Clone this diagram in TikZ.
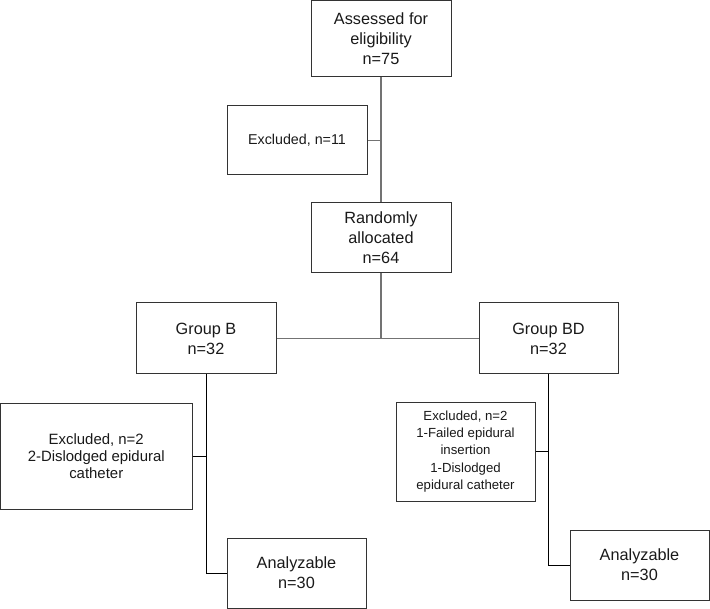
\documentclass[tikz,border=0pt]{standalone}
\usepackage{fontspec}
\setmainfont{Liberation Sans}
\begin{document}
\begin{tikzpicture}[x=0.75pt,y=-0.75pt,
  box/.style={draw=black!80, line width=0.75pt, align=center, inner sep=0pt,
    font=\fontsize{12.2}{15}\selectfont, text=black!90},
  exsmall/.style={font=\fontsize{10.7}{13}\selectfont},
  exleft/.style={font=\fontsize{11.2}{12.75}\selectfont},
  exright/.style={font=\fontsize{9.9}{13}\selectfont},
  upline/.style={draw=black!55, line width=0.9pt},
  lowline/.style={draw=black, line width=0.75pt}]
\useasboundingbox (0,0) rectangle (710,609);
\node[box, minimum width=140*0.75pt, minimum height=76*0.75pt] (top) at (381,39) {Assessed for\\eligibility\\n=75};
\node[box, exsmall, minimum width=140*0.75pt, minimum height=69*0.75pt] (ex11) at (297,140.5) {Excluded, n=11};
\node[box, minimum width=140*0.75pt, minimum height=70*0.75pt] (rand) at (381,238) {Randomly\\allocated\\n=64};
\node[box, minimum width=140*0.75pt, minimum height=71*0.75pt] (gb) at (206,338.5) {Group B\\n=32};
\node[box, minimum width=139*0.75pt, minimum height=71*0.75pt] (gbd) at (548.5,338.5) {Group BD\\n=32};
\node[box, exleft, minimum width=191.5*0.75pt, minimum height=106*0.75pt] (exl) at (96.25,456) {Excluded, n=2\\2-Dislodged epidural\\catheter};
\node[box, exright, minimum width=139*0.75pt, minimum height=99*0.75pt] (exr) at (465.5,451.5) {Excluded, n=2\\1-Failed epidural\\insertion\\1-Dislodged\\epidural catheter};
\node[box, minimum width=139*0.75pt, minimum height=70*0.75pt] (anl) at (296.5,573) {Analyzable\\n=30};
\node[box, minimum width=139*0.75pt, minimum height=70*0.75pt] (anr) at (639.5,565) {Analyzable\\n=30};
% upper connectors
\draw[upline] (top.south) -- (rand.north);
\draw[upline] (ex11.east) -- (ex11.east -| top.south);
\coordinate (split) at (rand.south |- gb.east);
\draw[upline] (rand.south) -- (split);
\draw[upline] (gb.east) -- (gbd.west);
% lower connectors
\draw[lowline] (gb.south) |- (anl.west);
\draw[lowline] (exl.east) -- (exl.east -| gb.south);
\draw[lowline] (gbd.south) |- (anr.west);
\draw[lowline] (exr.east) -- (exr.east -| gbd.south);
\end{tikzpicture}
\end{document}
